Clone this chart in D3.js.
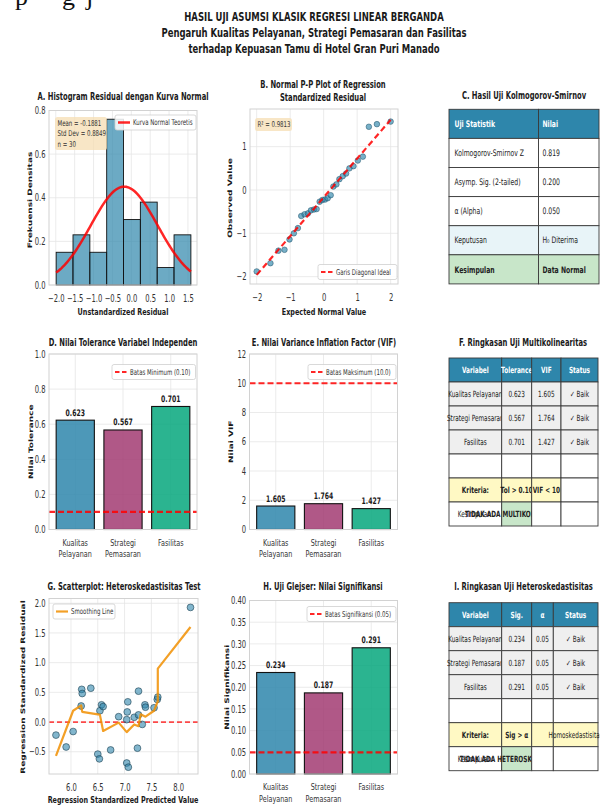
<!DOCTYPE html>
<html>
<head>
<meta charset="utf-8">
<script src="https://cdn.jsdelivr.net/npm/d3@7"></script>
<style>
  body { margin: 0; background: #fff; }
  svg { display: block; }
</style>
</head>
<body>
<svg id="fig" width="604" height="805"></svg>
<script>
// ---------------- data ----------------
// A. residual histogram (bin edges and density per bin)
const histEdges = [-1.99, -1.544, -1.098, -0.652, -0.206, 0.240, 0.686, 1.132, 1.578];
const histDensity = [0.15, 0.23, 0.15, 0.76, 0.30, 0.38, 0.08, 0.23];
const residMean = -0.1881;
const residStd = 0.8849;
const residN = 30;
const histXTicks = [-2.0, -1.5, -1.0, -0.5, 0.0, 0.5, 1.0, 1.5];
const histYTicks = [0.0, 0.2, 0.4, 0.6, 0.8];

// B. normal P-P plot
const ppExpected = [-2.00, -1.59, -1.35, -1.17, -1.02, -0.89, -0.77, -0.67, -0.57, -0.47,
                    -0.38, -0.29, -0.21, -0.12, -0.04, 0.04, 0.12, 0.21, 0.29, 0.38,
                    0.47, 0.57, 0.67, 0.77, 0.89, 1.02, 1.17, 1.35, 1.59, 2.00];
const ppObserved = [-1.88, -1.69, -1.40, -1.38, -1.14, -1.00, -0.88, -0.60, -0.56, -0.54,
                    -0.47, -0.45, -0.44, -0.27, -0.23, -0.22, -0.19, -0.12, 0.08, 0.13,
                    0.25, 0.32, 0.38, 0.50, 0.55, 0.68, 0.77, 1.46, 1.52, 1.58];
const ppLineX = [-2, 2];
const ppLineY = [-1.96, 1.62];
const ppR2 = "0.9813";
const ppXTicks = [-2, -1, 0, 1, 2];
const ppYTicks = [-2, -1, 0, 1];

// C. Kolmogorov-Smirnov table
const ksHeader = ["Uji Statistik", "Nilai"];
const ksRows = [
  ["Kolmogorov-Smirnov Z", "0.819"],
  ["Asymp. Sig. (2-tailed)", "0.200"],
  ["α (Alpha)", "0.050"],
  ["Keputusan", "H₀ Diterima"],
  ["Kesimpulan", "Data Normal"]
];

// D, E, H. per-variable values
const varLabels = [["Kualitas", "Pelayanan"], ["Strategi", "Pemasaran"], ["Fasilitas"]];
const tolerance = [0.623, 0.567, 0.701];
const vif = [1.605, 1.764, 1.427];
const glejserSig = [0.234, 0.187, 0.291];
const tolLimit = 0.10;
const vifLimit = 10.0;
const sigLimit = 0.05;
const tolTicks = [0.0, 0.2, 0.4, 0.6, 0.8, 1.0];
const vifTicks = [0, 2, 4, 6, 8, 10, 12];
const sigTicks = [0.00, 0.05, 0.10, 0.15, 0.20, 0.25, 0.30, 0.35, 0.40];

// F. multicollinearity summary
const multiHeader = ["Variabel", "Tolerance", "VIF", "Status"];
const multiRows = [
  ["Kualitas Pelayanan", "0.623", "1.605", "✓ Baik"],
  ["Strategi Pemasaran", "0.567", "1.764", "✓ Baik"],
  ["Fasilitas", "0.701", "1.427", "✓ Baik"],
  ["", "", "", ""],
  ["Kriteria:", "Tol > 0.10", "VIF < 10", ""],
  ["Kesimpulan:", "TIDAK ADA MULTIKOLINEARITAS", "", ""]
];

// G. heteroskedasticity scatter
const predicted = [5.72, 5.91, 6.04, 6.19, 6.20, 6.21, 6.37, 6.50, 6.53, 6.54,
                   6.57, 6.60, 6.74, 6.89, 7.04, 7.06, 7.05, 7.04, 7.07, 7.18,
                   7.24, 7.26, 7.26, 7.33, 7.38, 7.39, 7.55, 7.61, 7.62, 8.23];
const stdResidual = [-0.22, -0.42, -0.16, 0.27, 0.55, 0.48, 0.57, -0.54, -0.62, 0.19,
                     0.29, 0.26, -0.47, 0.09, -0.69, 0.34, 0.17, 0.04, -0.76, 0.08,
                     -0.44, 0.52, 0.12, -0.04, 0.29, 0.25, 0.24, 0.38, 0.42, 1.93];
const smoothX = [5.72, 6.04, 6.19, 6.21, 6.50, 6.54, 6.60, 6.89, 7.04, 7.18, 7.26, 7.30, 7.39, 7.55, 7.62, 7.62, 8.23];
const smoothY = [-0.57, 0.19, 0.28, 0.17, 0.13, 0.12, -0.15, -0.01, -0.17, -0.04, -0.07, 0.13, 0.09, 0.19, 0.35, 0.90, 1.60];
const scatXTicks = [6.0, 6.5, 7.0, 7.5, 8.0];
const scatYTicks = [-0.5, 0.0, 0.5, 1.0, 1.5, 2.0];

// I. heteroskedasticity summary
const heteroHeader = ["Variabel", "Sig.", "α", "Status"];
const heteroRows = [
  ["Kualitas Pelayanan", "0.234", "0.05", "✓ Baik"],
  ["Strategi Pemasaran", "0.187", "0.05", "✓ Baik"],
  ["Fasilitas", "0.291", "0.05", "✓ Baik"],
  ["", "", "", ""],
  ["Kriteria:", "Sig > α", "", "Homoskedastisitas"],
  ["Kesimpulan:", "TIDAK ADA HETEROSKEDASTISITAS", "", ""]
];

const barColors = ["#2E86AB", "#A23B72", "#06A77D"];

// ---------------- helpers ----------------
const SX = 0.68;                 // horizontal text compression
const FONT = "'DejaVu Sans', sans-serif";
const BLUE = "#2E86AB";
const GRID = "#e6e6e6";
const EDGE = "#d2d2d2";

const svg = d3.select("#fig");
svg.append("rect").attr("width", 604).attr("height", 805).attr("fill", "#fff");
const root = svg.append("g").attr("font-family", FONT);

function txt(parent, x, y, s, o = {}) {
  let tr = `translate(${x},${y}) scale(${SX},1)`;
  if (o.rotate) tr += ` rotate(${o.rotate})`;
  return parent.append("text")
    .attr("transform", tr)
    .attr("text-anchor", o.anchor || "start")
    .attr("font-size", o.size || 10)
    .attr("font-weight", o.weight || "normal")
    .attr("fill", o.fill || "#1a1a1a")
    .attr("dy", o.dy || 0)
    .text(s);
}

function cleanAxis(a) {
  a.attr("font-family", null).attr("font-size", null);
  a.select(".domain").remove();
  a.selectAll(".tick line").remove();
  a.selectAll("text")
    .attr("font-size", 10)
    .attr("fill", "#333")
    .attr("transform", `scale(${SX},1)`);
}

function drawFrame(g, b, xs, xt, ys, yt) {
  g.append("rect").attr("x", b.x0).attr("y", b.y1)
    .attr("width", b.x1 - b.x0).attr("height", b.y0 - b.y1).attr("fill", "#fff");
  if (xt) g.selectAll(null).data(xt).join("line")
    .attr("x1", d => xs(d)).attr("x2", d => xs(d)).attr("y1", b.y1).attr("y2", b.y0)
    .attr("stroke", GRID).attr("stroke-width", 0.8);
  g.selectAll(null).data(yt).join("line")
    .attr("x1", b.x0).attr("x2", b.x1).attr("y1", d => ys(d)).attr("y2", d => ys(d))
    .attr("stroke", GRID).attr("stroke-width", 0.8);
}

function drawBorder(g, b) {
  g.append("rect").attr("x", b.x0).attr("y", b.y1)
    .attr("width", b.x1 - b.x0).attr("height", b.y0 - b.y1)
    .attr("fill", "none").attr("stroke", EDGE).attr("stroke-width", 1);
}

function yAxis(g, b, ys, ticks, fmt) {
  const a = g.append("g").attr("transform", `translate(${b.x0},0)`)
    .call(d3.axisLeft(ys).tickValues(ticks).tickFormat(fmt).tickSize(0).tickPadding(5));
  cleanAxis(a);
}

function xAxis(g, b, xs, ticks, fmt) {
  const a = g.append("g").attr("transform", `translate(0,${b.y0})`)
    .call(d3.axisBottom(xs).tickValues(ticks).tickFormat(fmt).tickSize(0).tickPadding(10));
  cleanAxis(a);
}

function legend(g, x, cy, w, label, kind) {
  const h = 15;
  g.append("rect").attr("x", x).attr("y", cy - h / 2).attr("width", w).attr("height", h)
    .attr("rx", 2).attr("fill", "#fff").attr("fill-opacity", 0.85)
    .attr("stroke", "#cfcfcf").attr("stroke-width", 0.8);
  const ln = g.append("line").attr("x1", x + 3).attr("x2", x + 15).attr("y1", cy).attr("y2", cy);
  if (kind === "dash") ln.attr("stroke", "red").attr("stroke-opacity", 0.85).attr("stroke-width", 2.2).attr("stroke-dasharray", "4.5,2.5");
  else if (kind === "red") ln.attr("stroke", "red").attr("stroke-opacity", 0.85).attr("stroke-width", 2.5);
  else ln.attr("stroke", "#F18F01").attr("stroke-opacity", 0.85).attr("stroke-width", 2.2);
  txt(g, x + 18, cy, label, { size: 8, dy: "0.35em", fill: "#333" });
}

function drawTable(g, cols, top, rowH, rows, style) {
  rows.forEach((row, r) => {
    row.forEach((cell, c) => {
      const st = style(r, c);
      const x = cols[c], w = cols[c + 1] - cols[c], y = top + r * rowH;
      g.append("rect").attr("x", x).attr("y", y).attr("width", w).attr("height", rowH)
        .attr("fill", st.bg).attr("stroke", "#3a3a3a").attr("stroke-width", 0.9);
      if (cell !== "") {
        const tx = st.align === "left" ? x + st.pad : x + w / 2;
        txt(g, tx, y + rowH / 2, cell, {
          size: st.size, weight: st.weight, fill: st.color,
          anchor: st.align === "left" ? "start" : "middle", dy: "0.35em"
        });
      }
    });
  });
}

// stray line of page text along the top edge
[["p", 15], ["g", 62], ["j", 86]].forEach(([ch, x]) => {
  root.append("text").attr("x", x).attr("y", 4.5)
    .attr("font-family", "'Liberation Serif', serif").attr("font-size", 26)
    .attr("fill", "#111").text(ch);
});

// ---------------- main title ----------------
txt(root, 314, 21, "HASIL UJI ASUMSI KLASIK REGRESI LINEAR BERGANDA", { anchor: "middle", size: 12.5, weight: "bold" });
txt(root, 314, 37, "Pengaruh Kualitas Pelayanan, Strategi Pemasaran dan Fasilitas", { anchor: "middle", size: 12.5, weight: "bold" });
txt(root, 314, 53, "terhadap Kepuasan Tamu di Hotel Gran Puri Manado", { anchor: "middle", size: 12.5, weight: "bold" });

// ---------------- A. histogram ----------------
{
  const g = root.append("g");
  const b = { x0: 49, x1: 197, y0: 285, y1: 110.5 };
  const xs = d3.scaleLinear().domain([-2.18, 1.74]).range([b.x0, b.x1]);
  const ys = d3.scaleLinear().domain([0, 0.8]).range([b.y0, b.y1]);
  drawFrame(g, b, xs, histXTicks, ys, histYTicks);
  g.selectAll(null).data(histDensity).join("rect")
    .attr("x", (d, i) => xs(histEdges[i]))
    .attr("width", (d, i) => xs(histEdges[i + 1]) - xs(histEdges[i]))
    .attr("y", d => ys(d)).attr("height", d => ys(0) - ys(d))
    .attr("fill", BLUE).attr("fill-opacity", 0.7)
    .attr("stroke", "#111").attr("stroke-width", 0.9);
  // theoretical normal density from the reported mean and std
  const lo = histEdges[0], hi = histEdges[histEdges.length - 1];
  const curve = d3.range(0, 101).map(k => {
    const x = lo + (hi - lo) * k / 100;
    const z = (x - residMean) / residStd;
    return [x, Math.exp(-0.5 * z * z) / (residStd * Math.sqrt(2 * Math.PI))];
  });
  g.append("path").datum(curve)
    .attr("d", d3.line().x(d => xs(d[0])).y(d => ys(d[1])))
    .attr("fill", "none").attr("stroke", "red").attr("stroke-opacity", 0.85).attr("stroke-width", 2.5);
  drawBorder(g, b);
  yAxis(g, b, ys, histYTicks, d3.format(".1f"));
  xAxis(g, b, xs, histXTicks, d3.format(".1f"));
  // statistics box
  g.append("rect").attr("x", 55).attr("y", 117).attr("width", 52).attr("height", 33).attr("rx", 2.5)
    .attr("fill", "#f5deb3").attr("fill-opacity", 0.75);
  txt(g, 57.5, 123, `Mean = ${residMean.toFixed(4)}`, { size: 8, dy: "0.35em", fill: "#333" });
  txt(g, 57.5, 133.5, `Std Dev = ${residStd.toFixed(4)}`, { size: 8, dy: "0.35em", fill: "#333" });
  txt(g, 57.5, 144, `n = ${residN}`, { size: 8, dy: "0.35em", fill: "#333" });
  legend(g, 115, 122.5, 81, "Kurva Normal Teoretis", "red");
  txt(g, 123, 100, "A. Histogram Residual dengan Kurva Normal", { anchor: "middle", size: 10, weight: "bold" });
  txt(g, 30, 200, "Frekuensi Densitas", { anchor: "middle", size: 9, weight: "bold", rotate: -90, dy: "0.35em" });
  txt(g, 123, 315, "Unstandardized Residual", { anchor: "middle", size: 9.5, weight: "bold" });
}

// ---------------- B. P-P plot ----------------
{
  const g = root.append("g");
  const b = { x0: 250, x1: 398, y0: 284, y1: 109 };
  const xs = d3.scaleLinear().domain([-2.2, 2.22]).range([b.x0, b.x1]);
  const ys = d3.scaleLinear().domain([-2.17, 1.87]).range([b.y0, b.y1]);
  drawFrame(g, b, xs, ppXTicks, ys, ppYTicks);
  g.selectAll(null).data(ppExpected).join("circle")
    .attr("cx", d => xs(d)).attr("cy", (d, i) => ys(ppObserved[i])).attr("r", 2.8)
    .attr("fill", BLUE).attr("fill-opacity", 0.65)
    .attr("stroke", "#1d4f66").attr("stroke-width", 0.5);
  g.append("line")
    .attr("x1", xs(ppLineX[0])).attr("y1", ys(ppLineY[0]))
    .attr("x2", xs(ppLineX[1])).attr("y2", ys(ppLineY[1]))
    .attr("stroke", "red").attr("stroke-opacity", 0.85).attr("stroke-width", 2.2).attr("stroke-dasharray", "6,3.5");
  drawBorder(g, b);
  yAxis(g, b, ys, ppYTicks, d3.format("d"));
  xAxis(g, b, xs, ppXTicks, d3.format("d"));
  g.append("rect").attr("x", 255).attr("y", 118).attr("width", 37).attr("height", 13).attr("rx", 2.5)
    .attr("fill", "#f5deb3").attr("fill-opacity", 0.75);
  txt(g, 257.5, 124.5, `R² = ${ppR2}`, { size: 8, dy: "0.35em", fill: "#333" });
  legend(g, 318, 272, 79, "Garis Diagonal Ideal", "dash");
  txt(g, 323, 88, "B. Normal P-P Plot of Regression", { anchor: "middle", size: 10, weight: "bold" });
  txt(g, 323, 100.5, "Standardized Residual", { anchor: "middle", size: 10, weight: "bold" });
  txt(g, 230, 198, "Observed Value", { anchor: "middle", size: 9, weight: "bold", rotate: -90, dy: "0.35em" });
  txt(g, 324, 315, "Expected Normal Value", { anchor: "middle", size: 9.5, weight: "bold" });
}

// ---------------- C. KS table ----------------
{
  const g = root.append("g");
  txt(g, 524, 99, "C. Hasil Uji Kolmogorov-Smirnov", { anchor: "middle", size: 10, weight: "bold" });
  const rows = [ksHeader].concat(ksRows);
  const rowBg = ["#2E86AB", "#ffffff", "#ffffff", "#ffffff", "#e8f4f8", "#c8e6c9"];
  drawTable(g, [449, 538.5, 599], 109.3, 29.1, rows, (r, c) => ({
    bg: rowBg[r],
    weight: (r === 0 || r === 5) ? "bold" : "normal",
    color: r === 0 ? "#fff" : "#222",
    size: 9,
    align: "left",
    pad: c === 0 ? 5.5 : 4
  }));
}

// ---------------- bar panels D, E, H ----------------
function barPanel(cfg) {
  const g = root.append("g");
  const b = cfg.box;
  const xs = d3.scaleLinear().domain([-0.55, 2.55]).range([b.x0, b.x1]);
  const ys = d3.scaleLinear().domain([0, cfg.max]).range([b.y0, b.y1]);
  const centers = cfg.values.map((d, i) => i);
  drawFrame(g, b, xs, centers, ys, cfg.ticks);
  g.selectAll(null).data(cfg.values).join("rect")
    .attr("x", (d, i) => xs(i - 0.4)).attr("width", xs(0.4) - xs(-0.4))
    .attr("y", d => ys(d)).attr("height", d => ys(0) - ys(d))
    .attr("fill", (d, i) => barColors[i]).attr("fill-opacity", 0.85)
    .attr("stroke", "#111").attr("stroke-width", 1.1);
  g.append("line").attr("x1", b.x0).attr("x2", b.x1)
    .attr("y1", ys(cfg.limit)).attr("y2", ys(cfg.limit))
    .attr("stroke", "red").attr("stroke-opacity", 0.85).attr("stroke-width", 2.2).attr("stroke-dasharray", "6,3");
  drawBorder(g, b);
  yAxis(g, b, ys, cfg.ticks, cfg.fmt);
  cfg.values.forEach((v, i) => {
    txt(g, xs(i), ys(v) - 4.5, cfg.valueFmt(v), { anchor: "middle", size: 9, weight: "bold" });
    varLabels[i].forEach((line, k) => {
      txt(g, xs(i), b.y0 + 16 + k * 11.5, line, { anchor: "middle", size: 9.5, fill: "#333" });
    });
  });
  legend(g, cfg.legendX, cfg.legendY, b.x1 - 1.5 - cfg.legendX, cfg.legendLabel, "dash");
  txt(g, cfg.titleX, cfg.titleY, cfg.title, { anchor: "middle", size: 10, weight: "bold" });
  txt(g, cfg.ylabelX, (b.y0 + b.y1) / 2, cfg.ylabel, { anchor: "middle", size: 9, weight: "bold", rotate: -90, dy: "0.35em" });
}

barPanel({
  box: { x0: 49, x1: 197, y0: 529.5, y1: 354 },
  max: 1.0, ticks: tolTicks, fmt: d3.format(".1f"), values: tolerance, valueFmt: d3.format(".3f"),
  limit: tolLimit, legendLabel: "Batas Minimum (0.10)", legendX: 112, legendY: 372,
  title: "D. Nilai Tolerance Variabel Independen", titleX: 123, titleY: 346,
  ylabel: "Nilai Tolerance", ylabelX: 31
});

barPanel({
  box: { x0: 249.5, x1: 397.5, y0: 529.5, y1: 354 },
  max: 12, ticks: vifTicks, fmt: d3.format("d"), values: vif, valueFmt: d3.format(".3f"),
  limit: vifLimit, legendLabel: "Batas Maksimum (10.0)", legendX: 308, legendY: 372,
  title: "E. Nilai Variance Inflation Factor (VIF)", titleX: 324, titleY: 346,
  ylabel: "Nilai VIF", ylabelX: 231
});

barPanel({
  box: { x0: 249.5, x1: 397.5, y0: 774, y1: 600.5 },
  max: 0.40, ticks: sigTicks, fmt: d3.format(".2f"), values: glejserSig, valueFmt: d3.format(".3f"),
  limit: sigLimit, legendLabel: "Batas Signifikansi (0.05)", legendX: 307, legendY: 614,
  title: "H. Uji Glejser: Nilai Signifikansi", titleX: 323, titleY: 590,
  ylabel: "Nilai Signifikansi", ylabelX: 227
});

// ---------------- summary table styling (F, I) ----------------
// table row 0 = header, rows 1-3 = variables, 4 = spacer, 5 = criteria, 6 = conclusion
function summaryStyle(kriteriaBg) {
  return (r, c) => {
    let bg = "#ffffff", weight = "normal", color = "#222";
    if (r === 0) { bg = BLUE; weight = "bold"; color = "#fff"; }
    else if (r >= 1 && r <= 3) bg = "#efefef";
    else if (r === 5) { bg = kriteriaBg[c]; if (c < 3) weight = "bold"; }
    else if (r === 6 && c === 1) { bg = "#c8e6c9"; weight = "bold"; }
    return { bg, weight, color, size: 8.5, align: "center" };
  };
}

// ---------------- F. multicollinearity table ----------------
{
  const g = root.append("g");
  txt(g, 523, 345.5, "F. Ringkasan Uji Multikolinearitas", { anchor: "middle", size: 10, weight: "bold" });
  drawTable(g, [449, 501.7, 531.7, 561, 598], 358, 24, [multiHeader].concat(multiRows),
    summaryStyle(["#fff9c4", "#fff9c4", "#fff9c4", "#ffffff"]));
}

// ---------------- G. scatter ----------------
{
  const g = root.append("g");
  const b = { x0: 49, x1: 198, y0: 774, y1: 598.5 };
  const xs = d3.scaleLinear().domain([5.59, 8.37]).range([b.x0, b.x1]);
  const ys = d3.scaleLinear().domain([-0.875, 2.08]).range([b.y0, b.y1]);
  drawFrame(g, b, xs, scatXTicks, ys, scatYTicks);
  g.append("line").attr("x1", b.x0).attr("x2", b.x1).attr("y1", ys(0)).attr("y2", ys(0))
    .attr("stroke", "red").attr("stroke-opacity", 0.7).attr("stroke-width", 1.8).attr("stroke-dasharray", "5,3");
  g.selectAll(null).data(predicted).join("circle")
    .attr("cx", d => xs(d)).attr("cy", (d, i) => ys(stdResidual[i])).attr("r", 3.4)
    .attr("fill", BLUE).attr("fill-opacity", 0.6)
    .attr("stroke", "#1d3f50").attr("stroke-width", 0.6);
  g.append("path").datum(smoothX.map((x, i) => [x, smoothY[i]]))
    .attr("d", d3.line().x(d => xs(d[0])).y(d => ys(d[1])))
    .attr("fill", "none").attr("stroke", "#F18F01").attr("stroke-opacity", 0.85)
    .attr("stroke-width", 2.2).attr("stroke-linejoin", "round");
  drawBorder(g, b);
  yAxis(g, b, ys, scatYTicks, d3.format(".1f"));
  xAxis(g, b, xs, scatXTicks, d3.format(".1f"));
  legend(g, 53, 611.5, 62, "Smoothing Line", "orange");
  txt(g, 124, 590, "G. Scatterplot: Heteroskedastisitas Test", { anchor: "middle", size: 10, weight: "bold" });
  txt(g, 23, 687, "Regression Standardized Residual", { anchor: "middle", size: 9, weight: "bold", rotate: -90, dy: "0.35em" });
  txt(g, 123, 803, "Regression Standardized Predicted Value", { anchor: "middle", size: 9.5, weight: "bold" });
}

// ---------------- I. heteroskedasticity table ----------------
{
  const defs = svg.append("defs");
  defs.append("clipPath").attr("id", "clipI").append("rect")
    .attr("x", 0).attr("y", 560).attr("width", 599.5).attr("height", 245);
  const g = root.append("g").attr("clip-path", "url(#clipI)");
  txt(g, 523.5, 590, "I. Ringkasan Uji Heteroskedastisitas", { anchor: "middle", size: 10, weight: "bold" });
  const base = summaryStyle(["#fff9c4", "#fff9c4", "#fff9c4", "#fff9c4"]);
  drawTable(g, [449, 501.7, 531.7, 553.3, 598], 602.7, 24, [heteroHeader].concat(heteroRows),
    (r, c) => {
      const s = base(r, c);
      if (r === 5 && c >= 2) s.weight = "normal";
      return s;
    });
}
</script>
</body>
</html>
